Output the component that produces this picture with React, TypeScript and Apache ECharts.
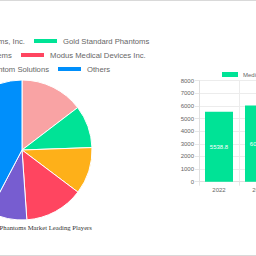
import React, { useEffect, useRef } from "react";
import * as echarts from "echarts";

// Canvas is wider than the visible 256px window; this offset shifts it left.
const OX = 100;
const CW = 456;
const CH = 256;

const playerNames = [
  "Computerized Imaging Reference Systems, Inc.",
  "Gold Standard Phantoms",
  "Leeds Test Objects Systems",
  "Modus Medical Devices Inc.",
  "True Phantom Solutions",
  "Others",
];
const playerShares = [14.6, 9.8, 10.8, 13.6, 8.8, 42.2];
const playerColors = ["#F9A3A4", "#00E396", "#FEB019", "#FF4560", "#775DD0", "#008FFB"];

const years = ["2022", "2023"];
const marketSize = [5538.8, 6032.5];
const sizeSeriesName = "Medical Imaging Phantoms Market Size";
const pieTitle = "Medical Imaging Phantoms Market Leading Players";

const legendFont = { fontSize: 7.7, color: "#666", fontFamily: "Liberation Sans, Arial, sans-serif" };

function rowLegend(name: string, pos: { left?: number; right?: number }, top: number) {
  return {
    ...pos,
    top,
    padding: 0,
    itemWidth: 25,
    itemHeight: 6,
    icon: "rect",
    data: [name],
    textStyle: legendFont,
  };
}

export default function App() {
  const ref = useRef<HTMLDivElement>(null);
  useEffect(() => {
    if (!ref.current) return;
    const chart = echarts.init(ref.current, null, { renderer: "svg" });
    const rowsTop = [37.1, 51.1, 65.1];
    const leftEnds = [25, 12, 49];
    const rightStarts = [32, 19, 56];
    const legends: any[] = [];
    for (let r = 0; r < 3; r++) {
      legends.push(rowLegend(playerNames[r * 2], { right: CW - (leftEnds[r] + OX) }, rowsTop[r]));
      legends.push(rowLegend(playerNames[r * 2 + 1], { left: rightStarts[r] + OX }, rowsTop[r]));
    }
    legends.push({
      left: 222 + OX,
      top: 71.5,
      padding: 0,
      itemWidth: 16,
      itemHeight: 5,
      icon: "rect",
      data: [sizeSeriesName],
      textStyle: { fontSize: 6, color: "#666", fontFamily: "Liberation Sans, Arial, sans-serif" },
    });

    chart.setOption({
      animation: false,
      backgroundColor: "#fff",
      legend: legends,
      grid: { left: 299, top: 80.7, width: 80, bottom: 74.3, containLabel: false },
      xAxis: {
        type: "category",
        data: years,
        axisLine: { lineStyle: { color: "#e0e0e0" } },
        axisTick: { show: true, length: 4, lineStyle: { color: "#e6e6e6" } },
        splitLine: { show: true, lineStyle: { color: "#ececec" } },
        axisLabel: { fontSize: 6, color: "#666", margin: 5, fontFamily: "Liberation Sans, Arial, sans-serif" },
      },
      yAxis: {
        type: "value",
        min: 0,
        max: 8000,
        interval: 1000,
        axisLine: { show: true, lineStyle: { color: "#e0e0e0" } },
        axisTick: { show: true, length: 4, lineStyle: { color: "#e6e6e6" } },
        splitLine: { show: true, lineStyle: { color: "#ececec" } },
        axisLabel: {
          fontSize: 6,
          color: "#666",
          margin: 5,
          fontFamily: "Liberation Sans, Arial, sans-serif",
          formatter: (v: number) => String(v),
        },
      },
      series: [
        {
          type: "pie",
          center: [22 + OX, 150],
          radius: 70,
          startAngle: 90,
          clockwise: true,
          label: { show: false },
          labelLine: { show: false },
          itemStyle: { borderColor: "#fff", borderWidth: 1 },
          data: playerNames.map((n, i) => ({
            name: n,
            value: playerShares[i],
            itemStyle: { color: playerColors[i] },
          })),
        },
        {
          type: "bar",
          name: sizeSeriesName,
          data: marketSize,
          barWidth: 28,
          itemStyle: { color: "#00E396" },
          label: {
            show: true,
            position: "inside",
            color: "#fff",
            fontSize: 6,
            fontFamily: "Liberation Sans, Arial, sans-serif",
            formatter: (p: any) => String(p.value),
          },
        },
      ],
      graphic: [
        {
          type: "line",
          shape: { x1: 0, y1: 0.5, x2: CW, y2: 0.5 },
          style: { stroke: "#d9d9d9", lineWidth: 1 },
          silent: true,
        },
        {
          type: "line",
          shape: { x1: 0, y1: 255.5, x2: CW, y2: 255.5 },
          style: { stroke: "#d9d9d9", lineWidth: 1 },
          silent: true,
        },
        {
          type: "text",
          x: 22 + OX,
          y: 227,
          style: {
            text: pieTitle,
            fill: "#333",
            font: "6.7px 'Liberation Serif', 'Times New Roman', serif",
            textAlign: "center",
            textVerticalAlign: "middle",
          },
        },
      ],
    });
    return () => chart.dispose();
  }, []);

  return (
    <div style={{ position: "fixed", left: 0, top: 0, width: 256, height: 256, overflow: "hidden", background: "#fff" }}>
      <div ref={ref} style={{ position: "absolute", left: -OX, top: 0, width: CW, height: CH }} />
    </div>
  );
}
